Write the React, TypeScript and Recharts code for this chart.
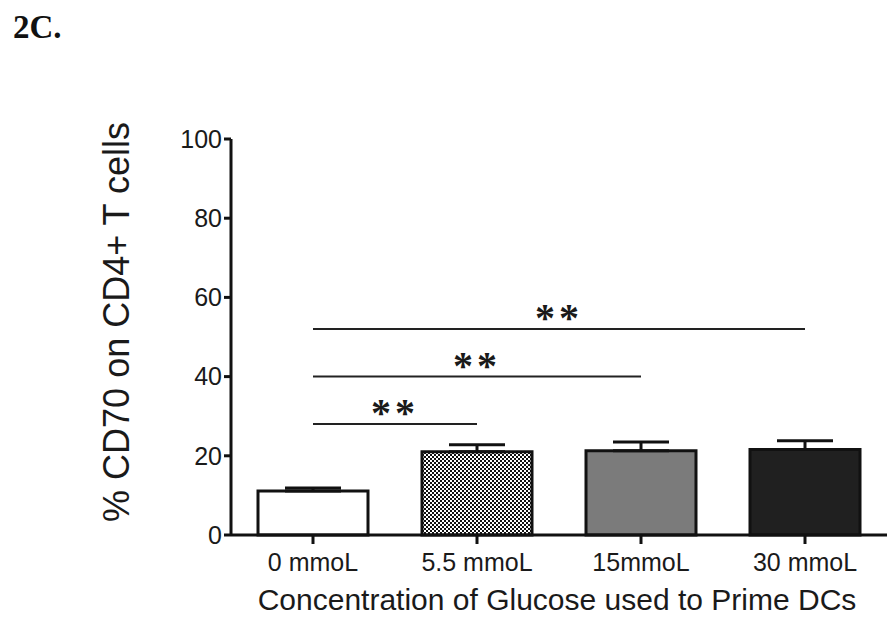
import { BarChart, Bar, XAxis, YAxis, ErrorBar, Cell, ReferenceLine } from "recharts";

const categories = ["0 mmoL", "5.5 mmoL", "15mmoL", "30 mmoL"];
const means = [11.1, 21.0, 21.3, 21.6];
const sem = [0.8, 1.8, 2.2, 2.2];
const yTicks = [0, 20, 40, 60, 80, 100];

// significance brackets: from the first group to the compared group
const sigTo = ["30 mmoL", "15mmoL", "5.5 mmoL"];
const sigY = [52, 40, 28];

const fills = ["#ffffff", "url(#checker)", "#7b7b7b", "#202020"];

const data = categories.map((c, i) => ({ name: c, value: means[i], err: [0, sem[i]] }));

const font = "'Liberation Sans', Arial, Helvetica, sans-serif";

const YLabel = (props: any) => {
  const vb = props.viewBox;
  const cx = vb.x + 116;
  const cy = vb.y + vb.height / 2 - 15;
  return (
    <text
      x={cx}
      y={cy}
      transform={`rotate(-90 ${cx} ${cy})`}
      textAnchor="middle"
      dominantBaseline="central"
      fontSize={36}
      fontFamily={font}
      fill="#1a1a1a"
    >
      % CD70 on CD4+ T cells
    </text>
  );
};

const XLabel = (props: any) => {
  const vb = props.viewBox;
  return (
    <text
      x={vb.x + vb.width / 2 - 2}
      y={vb.y + 75}
      textAnchor="middle"
      fontSize={30}
      fontFamily={font}
      fill="#1a1a1a"
    >
      Concentration of Glucose used to Prime DCs
    </text>
  );
};

const Stars = (props: any) => {
  const vb = props.viewBox;
  return (
    <text
      x={vb.x + vb.width / 2}
      y={vb.y + 2}
      textAnchor="middle"
      fontSize={40}
      fontWeight="bold"
      fontFamily="'Liberation Serif', 'Times New Roman', serif"
      fill="#1a1a1a"
      letterSpacing={4}
    >
      **
    </text>
  );
};

export default function App() {
  return (
    <div style={{ position: "absolute", left: 0, top: 0, width: 888, height: 617, background: "#fff" }}>
      <div
        style={{
          position: "absolute",
          left: 13,
          top: 9,
          fontFamily: "'Liberation Serif', 'Times New Roman', serif",
          fontWeight: "bold",
          fontSize: 33,
          color: "#111",
        }}
      >
        2C.
      </div>
      <BarChart
        width={888}
        height={617}
        data={data}
        margin={{ top: 139, right: 1, bottom: 0, left: 0 }}
        barSize={110}
      >
        <defs>
          <pattern id="checker" width="4" height="4" patternUnits="userSpaceOnUse">
            <rect width="4" height="4" fill="#ffffff" />
            <rect x="0" y="0" width="2" height="2" fill="#111" />
            <rect x="2" y="2" width="2" height="2" fill="#111" />
          </pattern>
        </defs>
        <XAxis
          dataKey="name"
          height={82}
          axisLine={{ stroke: "#111", strokeWidth: 3 }}
          tickLine={{ stroke: "#111", strokeWidth: 3 }}
          tickSize={9}
          tickMargin={9}
          tick={{ fontSize: 25, fill: "#1a1a1a", fontFamily: font }}
          label={<XLabel />}
        />
        <YAxis
          width={231}
          domain={[0, 100]}
          ticks={yTicks}
          interval={0}
          axisLine={{ stroke: "#111", strokeWidth: 3 }}
          tickLine={{ stroke: "#111", strokeWidth: 3 }}
          tickSize={7}
          tickMargin={2}
          tick={{ fontSize: 25, fill: "#1a1a1a", fontFamily: font }}
          label={<YLabel />}
        />
        <Bar dataKey="value" stroke="#111" strokeWidth={3} isAnimationActive={false}>
          {data.map((d, i) => (
            <Cell key={d.name} fill={fills[i]} />
          ))}
          <ErrorBar dataKey="err" width={28} stroke="#111" strokeWidth={3} direction="y" />
        </Bar>
        {sigTo.map((to, i) => (
          <ReferenceLine
            key={to}
            segment={[
              { x: categories[0], y: sigY[i] },
              { x: to, y: sigY[i] },
            ]}
            stroke="#222"
            strokeWidth={2}
            ifOverflow="visible"
            label={<Stars />}
          />
        ))}
      </BarChart>
    </div>
  );
}
